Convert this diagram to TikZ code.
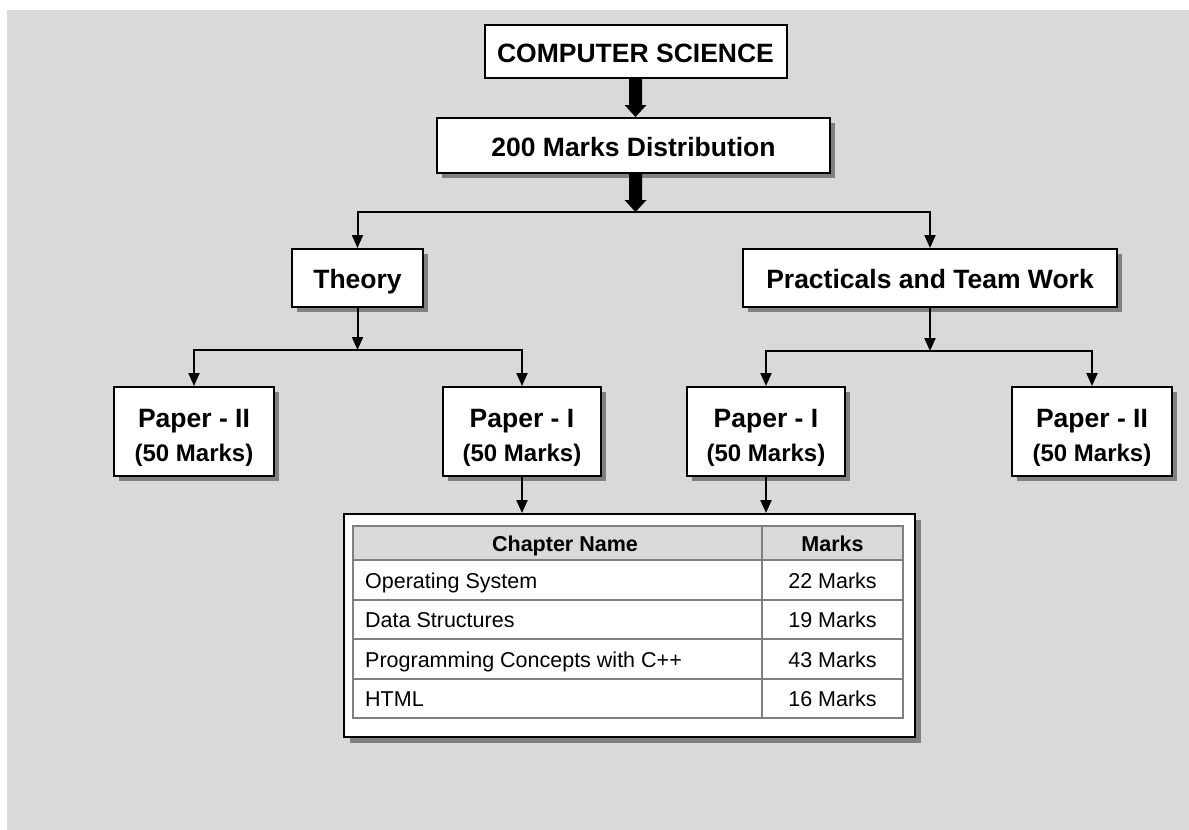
\documentclass[tikz,border=0pt]{standalone}
\usepackage{fontspec}
\setmainfont{Liberation Sans}
\usetikzlibrary{calc,arrows.meta,shadows}
\definecolor{bggrey}{HTML}{D9D9D9}
\definecolor{shadegrey}{HTML}{808080}
\definecolor{rulegrey}{HTML}{808080}
\newcommand\boxfont{\fontsize{26.5}{32}\selectfont\bfseries}
\newcommand\subfont{\fontsize{24}{29}\selectfont\bfseries}
\newcommand\cellfont{\fontsize{21.5}{26}\selectfont}

\begin{document}
\begin{tikzpicture}[x=1pt,y=-1pt,
  box/.style={draw=black, line width=2pt, fill=white, inner sep=0pt,
    font=\boxfont, text height=21pt, text depth=0pt},
  shadowed/.style={drop shadow={shadow xshift=5pt, shadow yshift=-5pt,
    fill=shadegrey, opacity=1}},
  paper/.style={box, shadowed, minimum height=89pt},
  ptitle/.style={font=\boxfont, anchor=base, inner sep=0pt},
  psub/.style={font=\subfont, anchor=base, inner sep=0pt},
  conn/.style={draw=black, line width=2pt},
  tip/.tip={Triangle[width=11pt,length=13pt]},
  cellname/.style={font=\cellfont, anchor=base west, inner sep=0pt},
  cellmark/.style={font=\cellfont, anchor=base, inner sep=0pt},
  cellhead/.style={font=\cellfont\bfseries, anchor=base, inner sep=0pt},
  gridline/.style={draw=rulegrey, line width=2pt}
]
\useasboundingbox (0,0) rectangle (1189,830);
% page background
\fill[white] (0,0) rectangle (1189,830);
\fill[bggrey] (7,10) rectangle (1189,830);

% top of the tree
\node[box, minimum width=302pt, minimum height=53pt] (cs) at (635.5,51.5) {COMPUTER SCIENCE};
\node[box, shadowed, minimum width=393pt, minimum height=55pt] (dist) at (633.5,145.5) {200 Marks Distribution};

% second level
\node[box, shadowed, minimum width=131pt, minimum height=58pt] (theory) at (357.5,278) {Theory};
\node[box, shadowed, minimum width=374pt, minimum height=58pt] (prac) at (930,278) {Practicals and Team Work};

% papers
\node[paper, minimum width=160pt] (p2l) at (194,431.5) {};
\node[paper, minimum width=158pt] (p1l) at (522,431.5) {};
\node[paper, minimum width=158pt] (p1r) at (766,431.5) {};
\node[paper, minimum width=160pt] (p2r) at (1092,431.5) {};
\foreach \p/\t in {p2l/II, p1l/I, p1r/I, p2r/II}{
  \node[ptitle] (\p-a) at ($(\p.center)+(0,-4.5)$) {Paper - \t};
  \node[psub] (\p-b) at ($(\p.center)+(0,29.5)$) {(50 Marks)};
}

% thick arrows
\coordinate (mb) at (636,212);
\coordinate (t1) at (cs.south |- dist.north);
\coordinate (s2) at (cs.south |- dist.south);
\coordinate (t2) at (cs.south |- mb);
\fill[black] ($(cs.south)+(-6.5,0)$) -- ($(t1)+(-6.5,-12)$) -- ($(t1)+(-11,-12)$) -- (t1)
  -- ($(t1)+(11,-12)$) -- ($(t1)+(6.5,-12)$) -- ($(cs.south)+(6.5,0)$) -- cycle;
\fill[black] ($(s2)+(-6.5,0)$) -- ($(t2)+(-6.5,-12)$) -- ($(t2)+(-11,-12)$) -- (t2)
  -- ($(t2)+(11,-12)$) -- ($(t2)+(6.5,-12)$) -- ($(s2)+(6.5,0)$) -- cycle;

% branches
\draw[conn, {tip}-{tip}] (theory.north) |- (mb) -| (prac.north);
\coordinate (tb) at (357.5,350);
\draw[conn, -{tip}] (theory.south) -- (theory.south |- tb);
\draw[conn, {tip}-{tip}] (p2l.north) |- (tb) -| (p1l.north);
\coordinate (pb) at (930,351);
\draw[conn, -{tip}] (prac.south) -- (prac.south |- pb);
\draw[conn, {tip}-{tip}] (p1r.north) |- (pb) -| (p2r.north);

% chapter table
\node[draw=black, line width=2pt, fill=white, inner sep=0pt,
  drop shadow={shadow xshift=6pt, shadow yshift=-6pt, fill=shadegrey, opacity=1},
  minimum width=571pt, minimum height=223pt] (tbl) at (629.5,625.5) {};
\draw[conn, -{tip}] (p1l.south) -- (p1l.south |- tbl.north);
\draw[conn, -{tip}] (p1r.south) -- (p1r.south |- tbl.north);

\fill[bggrey] (353,526) rectangle (903,559.5);
\foreach \y in {559.5,599.5,639,678.5}
  \draw[gridline] (353,\y) -- (903,\y);
\draw[gridline] (762,526) -- (762,718);
\draw[gridline] (353,526) rectangle (903,718);

\node[cellhead] (hname) at (565,551) {Chapter Name};
\node[cellhead] (hmarks) at (832.5,551) {Marks};
\node[cellname] (n1) at (365,588) {Operating System};
\node[cellname] (n2) at (365,627.5) {Data Structures};
\node[cellname] (n3) at (365,667) {Programming Concepts with C++};
\node[cellname] (n4) at (365,706.5) {HTML};
\node[cellmark] (m1) at (832.5,588) {22 Marks};
\node[cellmark] (m2) at (832.5,627.5) {19 Marks};
\node[cellmark] (m3) at (832.5,667) {43 Marks};
\node[cellmark] (m4) at (832.5,706.5) {16 Marks};
\end{tikzpicture}
\end{document}
